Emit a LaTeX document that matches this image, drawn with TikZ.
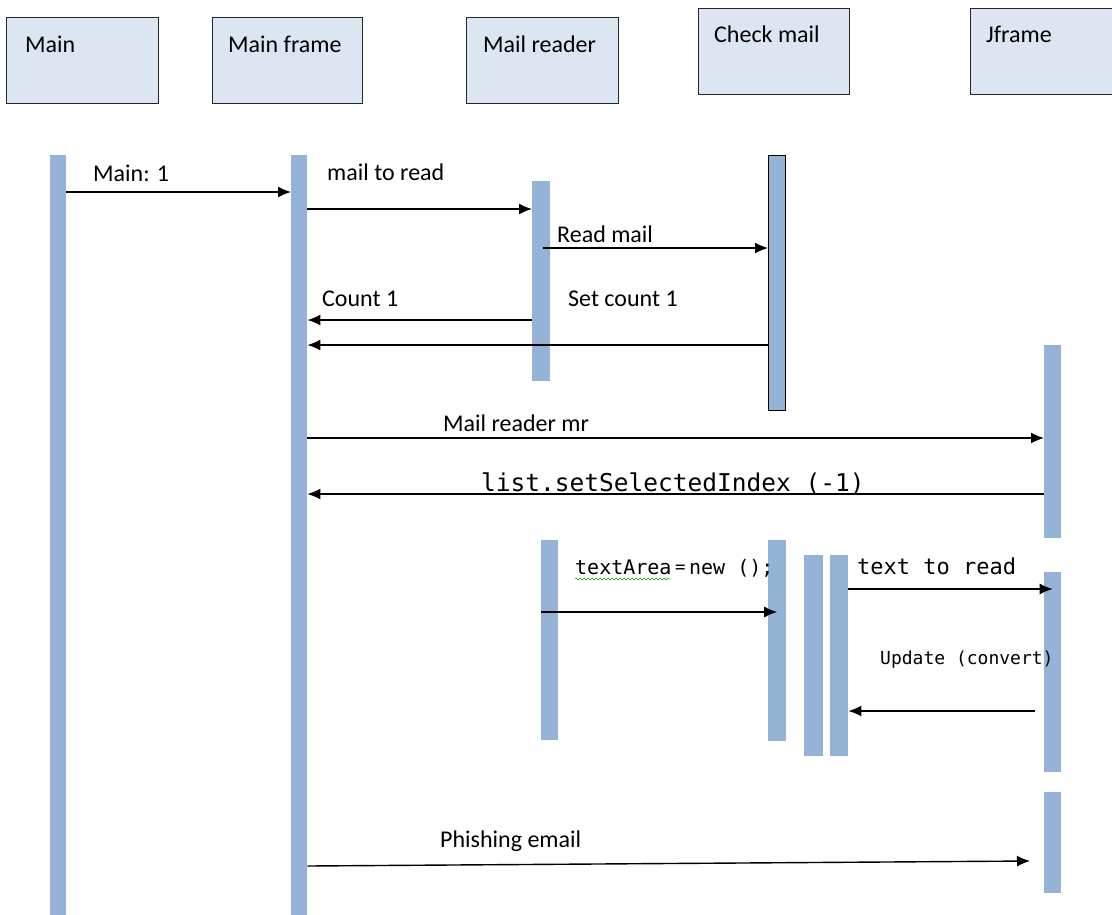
\documentclass[tikz,border=0pt]{standalone}
\usepackage{fontspec}
\setmainfont{Carlito}
\setmonofont{DejaVu Sans Mono}
\usepackage{tikz}
\usetikzlibrary{arrows.meta,positioning,decorations.pathmorphing}
\definecolor{barblue}{HTML}{95B3D7}
\definecolor{boxblue}{HTML}{DCE6F2}
\tikzstyle{obj box}=[rectangle,draw=black!85,line width=1.4pt,fill=boxblue,anchor=north west,minimum width=152pt,minimum height=86pt,inner sep=0]
\tikzstyle{life bar}=[rectangle,fill=barblue,anchor=north west,minimum width=17pt,inner sep=0]
\tikzstyle{msg}=[-{Latex[length=13pt,width=11pt]},line width=1.4pt]
\tikzstyle{lbl}=[anchor=base west,inner sep=0,font=\fontsize{24}{28}\selectfont]
\tikzstyle{code}=[anchor=base west,inner sep=0,font=\ttfamily\fontsize{20}{24}\selectfont]

\begin{document}
\begin{tikzpicture}[x=1pt,y=-1pt]
		\useasboundingbox (0,0) rectangle (1112,914);
		\clip (0,0) rectangle (1112,914);

		% objects
		\node(main)[obj box] at (6,17) {};
		\node(frame)[obj box,minimum width=150pt] at (212,17) {};
		\node(reader)[obj box] at (466,17) {};
		\node(check)[obj box,minimum width=151pt] at (698,8) {};
		\node(jframe)[obj box,minimum width=170pt] at (970,8) {};
		\node[lbl] at ([shift={(19,35)}]main.north west) {Main};
		\node[lbl] at ([shift={(16,35)}]frame.north west) {Main frame};
		\node[lbl] at ([shift={(17,35)}]reader.north west) {Mail reader};
		\node[lbl] at ([shift={(16,34)}]check.north west) {Check mail};
		\node[lbl] at ([shift={(16,34)}]jframe.north west) {Jframe};

		% life lines
		\node(mainL)[life bar,minimum width=16pt,minimum height=770pt] at (50,155) {};
		\node(frameL)[life bar,minimum width=16pt,minimum height=770pt] at (291,155) {};
		\node(readL)[life bar,minimum width=18pt,minimum height=200pt] at (532,181) {};
		\node(checkL)[life bar,draw=black,line width=1.2pt,minimum width=17pt,minimum height=255pt] at (768,155) {};
		\node(jL1)[life bar,minimum height=193pt] at (1044,345) {};
		\node(readL2)[life bar,minimum height=200pt] at (541,540) {};
		\node(checkL2)[life bar,minimum width=18pt,minimum height=201pt] at (768,540) {};
		\node(barA)[life bar,minimum width=19pt,minimum height=201pt] at (804,555) {};
		\node(barB)[life bar,minimum width=18pt,minimum height=201pt] at (830,555) {};
		\node(jL2)[life bar,minimum height=200pt] at (1044,572) {};
		\node(jL3)[life bar,minimum height=101pt] at (1044,792) {};

		% message levels
		\coordinate(m1) at (0,192);
		\coordinate(m2) at (0,209);
		\coordinate(m3) at (543,248);
		\coordinate(m4) at (0,320);
		\coordinate(m5) at (0,345);
		\coordinate(m6) at (0,438);
		\coordinate(m7) at (0,494);
		\coordinate(m8) at (0,612);
		\coordinate(m9) at (0,589);
		\coordinate(m10) at (1035,711);
		\coordinate(m11) at (0,866);
		\coordinate(m12) at (1030,861);

		\draw[msg] (mainL.east |- m1) -- (frameL.west |- m1);
		\draw[msg] (frameL.east |- m2) -- (readL.west |- m2);
		\draw[msg] (m3) -- (checkL.west |- m3);
		\draw[msg] (readL.west |- m4) -- (frameL.east |- m4);
		\draw[msg] (checkL.west |- m5) -- (frameL.east |- m5);
		\draw[msg] (frameL.east |- m6) -- (jL1.west |- m6);
		\draw[msg] (jL1.west |- m7) -- (frameL.east |- m7);
		\draw[msg] (readL2.west |- m8) -- (checkL2.center |- m8);
		\draw[msg] (barB.east |- m9) -- (jL2.center |- m9);
		\draw[msg] (m10) -- (barB.east |- m10);
		\draw[msg] (frameL.east |- m11) -- (m12);

		\node[lbl] at (93,181) {Main: 1};
		\node[lbl] at (327,180) {mail to read};
		\node[lbl] at (557,242) {Read mail};
		\node[lbl] at (322,306) {Count 1};
		\node[lbl] at (568,306) {Set count 1};
		\node[lbl] at (443,431) {Mail reader mr};
		\node[code,font=\ttfamily\fontsize{24.5}{28}\selectfont] at (481,491) {list.setSelectedIndex (-1)};
		\node(ta)[code] at (575,574) {textArea\,{\rmfamily\fontsize{22}{26}\selectfont=}\,new ();};
		\draw[green!60!black,decorate,decoration={snake,amplitude=1pt,segment length=4pt}] (575,579) -- (671,579);
		\node[code,font=\ttfamily\fontsize{22}{26}\selectfont] at (857,574) {text to read};
		\node[code,font=\ttfamily\fontsize{18}{22}\selectfont] at (880,664) {Update (convert)};
		\node[lbl] at (440,847) {Phishing email};

\end{tikzpicture}
\end{document}
